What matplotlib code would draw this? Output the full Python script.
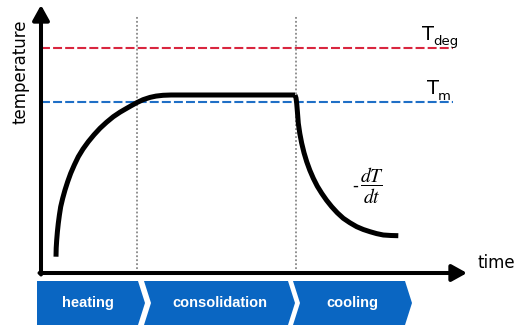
import matplotlib.pyplot as plt
from matplotlib.patches import Polygon

# curve (time, temperature) in pixel-like units
heat_t = [15, 15.2, 15.7, 16.4, 17.3, 18.4, 19.7, 21.7, 24, 26.7, 29.7, 33.3, 37.3, 42, 47.3, 53, 59,
          65.5, 72.3, 79, 85.7, 90.8, 95.7, 102, 109, 115, 122, 130, 139, 254]
heat_T = [16.3, 25, 33, 41.3, 49.7, 58, 66.3, 74.7, 83, 91.4, 99.7, 108, 116.3, 124, 131.3, 138.2, 144.7,
          150.7, 156.3, 160.8, 164.7, 167.6, 170.3, 173.3, 175.6, 176.9, 177.7, 178, 178, 178]
cool_t = [254, 255, 255.7, 256.5, 257.3, 258.8, 260.7, 263, 265.7, 268.8, 272.3, 276.3, 280.7, 285.5,
          290.7, 296.3, 302.3, 308.8, 315.7, 322.3, 329, 335.6, 342.3, 350, 357.3]
cool_T = [178, 175, 169.7, 160, 149.7, 139.5, 129.7, 120.3, 111.3, 102.8, 94.7, 86.8, 79.7, 72.8,
          66.3, 60.2, 54.7, 50.3, 46.3, 43.5, 41.3, 39.4, 38, 37.5, 37.3]

T_deg = 225.5
T_m = 171.5
phase_names = ['heating', 'consolidation', 'cooling']
phase_start = [-4, 103, 252]
phase_end = [97, 247, 364]
phase_lines = [96, 255]

blue = '#0a66c2'

fig = plt.figure(figsize=(5.18, 3.27), dpi=100)
ax = fig.add_axes([0, 0, 1, 1])
ax.set_xlim(-41, 477)
ax.set_ylim(-54, 273)
ax.axis('off')

# reference levels
ax.plot([0, 412], [T_deg, T_deg], color='#d9263f', lw=1.5, dashes=(4.3, 1.5))
ax.plot([0, 412], [T_m, T_m], color='#1f6fc6', lw=1.5, dashes=(4.3, 1.5))
ax.text(381, T_deg + 7, 'T', fontsize=14, va='baseline', ha='left')
ax.text(392, T_deg + 2, 'deg', fontsize=9.5, va='baseline', ha='left')
ax.text(386, T_m + 7, 'T', fontsize=14, va='baseline', ha='left')
ax.text(397, T_m + 2, 'm', fontsize=9.5, va='baseline', ha='left')

# phase separators
for x in phase_lines:
    ax.plot([x, x], [0, 258], color='#888888', lw=1.3, ls=(0, (1, 1.2)))

# temperature curve
ax.plot(heat_t, heat_T, color='black', lw=3.6, solid_capstyle='butt', solid_joinstyle='round')
ax.plot(cool_t, cool_T, color='black', lw=3.6, solid_capstyle='butt', solid_joinstyle='round')
ax.text(311, 87, '-', fontsize=12, va='center', ha='left')
ax.text(319, 87, r'$\dfrac{dT}{dt}$', fontsize=14, va='center', ha='left', math_fontfamily='stix')

# axes arrows
arrow = dict(arrowstyle='-|>,head_length=0.45,head_width=0.25', lw=2.9, color='black',
             mutation_scale=20, shrinkA=0, shrinkB=0)
ax.annotate('', xy=(0, 268), xytext=(0, -1.5), arrowprops=arrow)
ax.annotate('', xy=(426, 0), xytext=(-1.5, 0), arrowprops=arrow)
ax.text(-21, 201, 'temperature', rotation=90, fontsize=12, ha='center', va='center')
ax.text(437, 10, 'time', fontsize=12, ha='left', va='center')

# phase chevrons
top, bot, depth = -8, -52, 7
mid = (top + bot) / 2
for i, name in enumerate(phase_names):
    x0, x1 = phase_start[i], phase_end[i]
    notch = 0 if i == 0 else depth
    pts = [(x0, top), (x1, top), (x1 + depth, mid), (x1, bot), (x0, bot), (x0 + notch, mid)]
    ax.add_patch(Polygon(pts, closed=True, color=blue, lw=0))
    ax.text((x0 + x1 + notch) / 2, mid, name, color='white', fontsize=10.5, fontweight='bold',
            family='Liberation Sans', ha='center', va='center')

fig.savefig('out.png', dpi=100)
